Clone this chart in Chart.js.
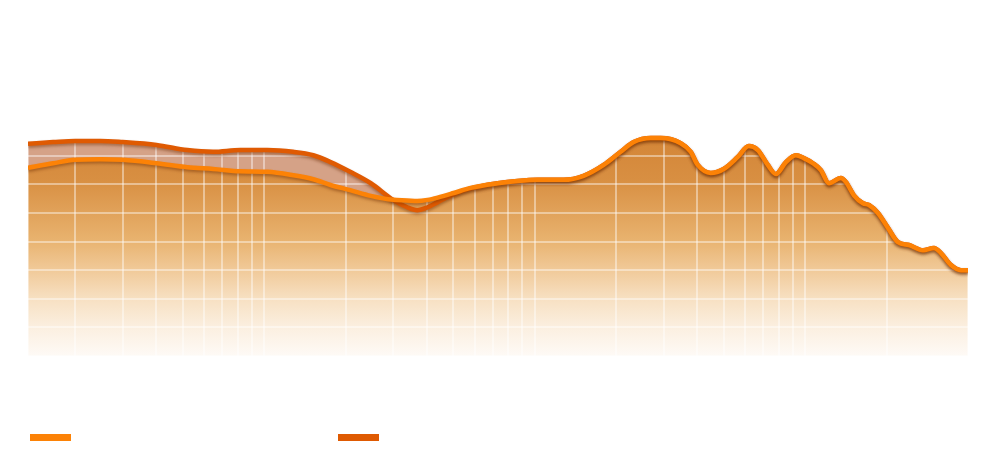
<!DOCTYPE html>
<html>
<head>
<meta charset="utf-8">
<script src="https://cdn.jsdelivr.net/npm/chart.js@4.4.1/dist/chart.umd.min.js"></script>
<style>
  html, body { margin: 0; padding: 0; background: #fff; overflow: hidden; }
  #wrap { width: 990px; height: 449px; }
</style>
</head>
<body>
<div id="wrap"><canvas id="fr" width="990" height="449"></canvas></div>
<script>
// frequency points (Hz)
const freqs = [6.7, 8.3, 10, 12.4, 15, 20, 26, 32.4, 40.8, 51.4, 64, 76, 88, 104, 124,
  150, 169, 184, 201, 219, 251, 290, 365, 432, 513, 640, 759, 900, 1040, 1162,
  1343, 1462, 1734, 1888, 2004, 2239, 2500, 2818, 3097, 3342, 3639, 3899, 4246, 4624, 4943,
  5342, 5717, 6121, 6777, 7079, 7573, 8180, 8610, 9290, 10120, 11020, 12100, 13640, 14970, 15890,
  17300, 18840, 20000];

// dB
const measured = [82.9, 83.7, 84.3, 84.4, 84.3, 83.7, 83.0, 82.7, 82.3, 82.2, 81.6, 80.9, 79.9, 79.0, 78.0,
  77.3, 77.2, 77.1, 77.3, 77.7, 78.5, 79.4, 80.2, 80.6, 80.8, 80.8, 81.5, 83.4, 85.7, 87.4,
  88.1, 88.1, 87.2, 85.7, 83.4, 82.0, 82.7, 84.8, 86.7, 86.0, 83.4, 81.8, 83.9, 85.1, 84.6,
  83.7, 82.5, 80.2, 81.1, 80.4, 78.1, 76.7, 76.4, 75.0, 72.4, 69.9, 69.4, 68.5, 68.9, 68.0,
  65.9, 65.0, 65.0];

const target = [87.1, 87.4, 87.6, 87.6, 87.4, 86.9, 86.0, 85.7, 86.0, 86.0, 85.7, 85.1, 83.9, 82.2, 80.2,
  77.3, 76.0, 75.5, 76.0, 76.9, 78.3, 79.3, 80.2, 80.6, 80.8, 80.8, 81.5, 83.4, 85.7, 87.4,
  88.1, 88.1, 87.2, 85.7, 83.4, 82.0, 82.7, 84.8, 86.7, 86.0, 83.4, 81.8, 83.9, 85.1, 84.6,
  83.7, 82.5, 80.2, 81.1, 80.4, 78.1, 76.7, 76.4, 75.0, 72.4, 69.9, 69.4, 68.5, 68.9, 68.0,
  65.9, 65.0, 65.0];

const seriesNames = ['Measured frequency response (L+R average)', 'Target curve'];

// vertical grid lines
const xGrid = [6.7, 10, 15, 20, 25, 30, 35, 40, 45, 50, 100, 150, 200, 250, 300, 350, 400, 450, 500,
  1000, 1500, 2000, 2500, 3000, 3500, 4000, 4500, 5000, 10000, 20000];

const orange = '#fc8206';
const dark = '#df5a02';

// legend labels are white, so work out spacing from the text width
const labelFont = '12px Arial';
const mctx = document.createElement('canvas').getContext('2d');
mctx.font = labelFont;
const tw = mctx.measureText(seriesNames[0]).width;
const legendPad = 261 - tw;
const leftPad = tw - 231;

function fadeFill(context) {
  const chart = context.chart;
  if (!chart.chartArea) return 'rgba(214,140,60,0.8)';
  const top = chart.scales.y.getPixelForValue(88.5);
  const bottom = chart.chartArea.bottom;
  const g = chart.ctx.createLinearGradient(0, top, 0, bottom);
  g.addColorStop(0, 'rgb(211,133,55)');
  g.addColorStop(0.2, 'rgb(216,143,66)');
  g.addColorStop(0.47, 'rgb(232,178,110)');
  g.addColorStop(0.6, 'rgb(240,200,150)');
  g.addColorStop(0.74, 'rgb(247,224,194)');
  g.addColorStop(0.87, 'rgb(251,239,224)');
  g.addColorStop(1, 'rgb(254,250,246)');
  return g;
}

// fills are drawn before the grid, so the curves need their control points early
const prepCurves = {
  id: 'prepCurves',
  afterUpdate(chart) {
    chart.getSortedVisibleDatasetMetas().forEach(m => m.dataset.updateControlPoints(chart.chartArea, 'x'));
  }
};

const lineShadow = {
  id: 'lineShadow',
  beforeDatasetDraw(chart) {
    const ctx = chart.ctx;
    ctx.save();
    ctx.shadowColor = 'rgba(110,45,0,0.45)';
    ctx.shadowBlur = 3;
    ctx.shadowOffsetY = 2;
  },
  afterDatasetDraw(chart) {
    chart.ctx.restore();
  }
};

const gridColor = 'rgba(255,255,255,0.42)';

new Chart(document.getElementById('fr'), {
  type: 'line',
  data: {
    labels: freqs,
    datasets: [
      {
        label: seriesNames[1],
        data: target,
        order: 1,
        borderColor: dark,
        backgroundColor: 'rgba(188,105,62,0.62)',
        borderWidth: 4.5,
        fill: '+1',
        pointRadius: 0,
        tension: 0.4,
        cubicInterpolationMode: 'monotone'
      },
      {
        label: seriesNames[0],
        data: measured,
        order: 0,
        borderColor: orange,
        backgroundColor: fadeFill,
        borderWidth: 4.5,
        fill: 'start',
        pointRadius: 0,
        tension: 0.4,
        cubicInterpolationMode: 'monotone'
      }
    ]
  },
  options: {
    responsive: false,
    animation: false,
    layout: { padding: { left: leftPad, right: 22, top: 70, bottom: -4.5 } },
    scales: {
      x: {
        type: 'logarithmic',
        min: 6.7,
        max: 20000,
        ticks: { display: false },
        grid: { color: gridColor, lineWidth: 2, drawTicks: false },
        border: { display: false },
        afterBuildTicks: s => { s.ticks = xGrid.map(v => ({ value: v })); },
        afterFit: s => { s.height = 75.5 - legendPad; }
      },
      y: {
        min: 50,
        max: 100,
        ticks: { display: false, stepSize: 5 },
        grid: { color: gridColor, lineWidth: 2, drawTicks: false },
        border: { display: false },
        afterFit: s => { s.width = 28 - leftPad; }
      }
    },
    plugins: {
      filler: { drawTime: 'beforeDraw' },
      tooltip: { enabled: false },
      legend: {
        position: 'bottom',
        align: 'start',
        labels: {
          boxWidth: 41,
          boxHeight: 7,
          padding: legendPad,
          color: '#fff',
          font: { family: 'Arial', size: 12 },
          generateLabels: chart => chart.data.datasets
            .map((ds, i) => ({
              text: ds.label,
              fillStyle: ds.borderColor,
              strokeStyle: ds.borderColor,
              lineWidth: 0,
              fontColor: '#fff',
              hidden: false,
              datasetIndex: i,
              order: ds.order
            }))
            .sort((a, b) => a.order - b.order)
        }
      }
    }
  },
  plugins: [prepCurves, lineShadow]
});
</script>
</body>
</html>
